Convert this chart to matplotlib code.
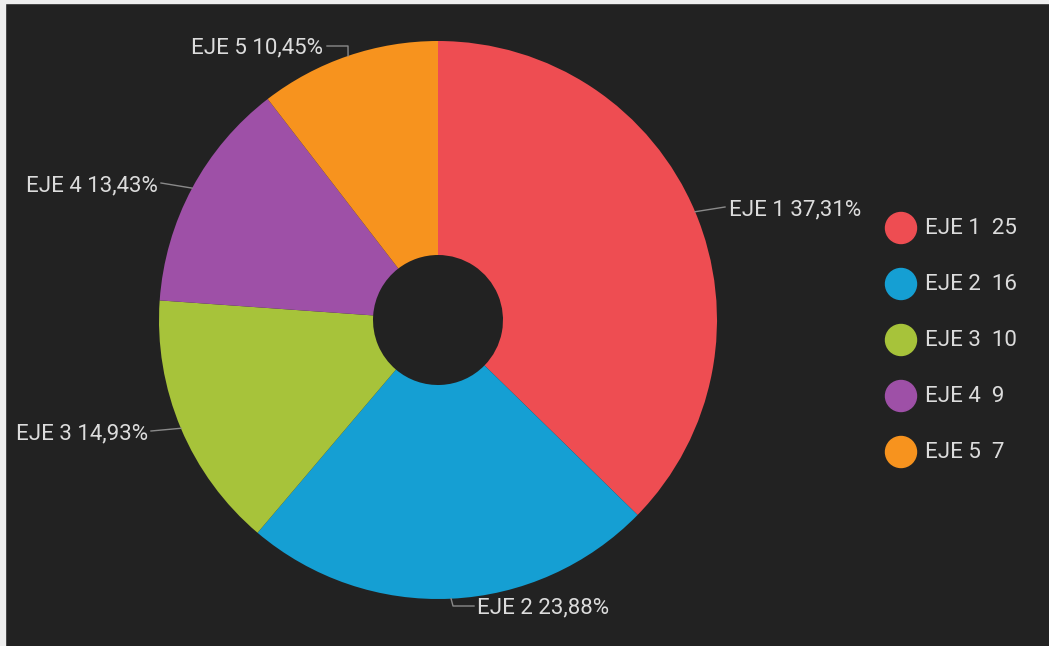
import numpy as np
import matplotlib
matplotlib.use("Agg")
import matplotlib.pyplot as plt
from matplotlib import rcParams, patches

rcParams['font.family'] = ['Roboto', 'DejaVu Sans']

# datos
categorias = ['EJE 1', 'EJE 2', 'EJE 3', 'EJE 4', 'EJE 5']
valores = [25, 16, 10, 9, 7]
colores = ['#EE4D52', '#159FD3', '#A7C33A', '#9E50A7', '#F7931E']

W, H = 1049, 646
fondo = '#222222'
texto = '#DCDCDC'
linea = '#8A8A8A'

fig = plt.figure(figsize=(W / 100, H / 100), dpi=100)
fig.patch.set_facecolor(fondo)
ax = fig.add_axes([0, 0, 1, 1])

def Y(y):
    # coordenada desde arriba
    return H - y

cx, cy, r, hueco = 438, 320, 279, 65
wedges, _ = ax.pie(valores, colors=colores, startangle=90, counterclock=False,
                   center=(cx, Y(cy)), radius=r,
                   wedgeprops=dict(width=r - hueco, linewidth=0))
ax.set_xlim(0, W)
ax.set_ylim(0, H)
ax.set_aspect('equal')
ax.axis('off')

total = sum(valores)
# ubicacion de etiquetas: (x texto, y texto, alineacion, codo)
etiquetas = [
    (729, 210, 'left', [(725, 207)]),
    (477, 608, 'left', [(453, 606), (474, 606)]),
    (148, 434, 'right', [(151, 431)]),
    (158, 186, 'right', [(161, 183)]),
    (323, 48, 'right', [(348, 46), (327, 46)]),
]
for w, cat, v, (tx, ty, ha, codo) in zip(wedges, categorias, valores, etiquetas):
    ang = np.deg2rad((w.theta1 + w.theta2) / 2)
    ex = cx + r * np.cos(ang)
    ey = Y(cy) + r * np.sin(ang)
    xs = [ex] + [p[0] for p in codo]
    ys = [ey] + [Y(p[1]) for p in codo]
    ax.plot(xs, ys, color=linea, linewidth=1)
    pct = f'{100 * v / total:.2f}'.replace('.', ',')
    ax.text(tx, Y(ty), f'{cat} {pct}%', color=texto, fontsize=16,
            ha=ha, va='center')

# leyenda
for i, (cat, v, c) in enumerate(zip(categorias, valores, colores)):
    ly = 228 + i * 56
    ax.add_patch(patches.Circle((901, Y(ly)), 15.5, color=c))
    ax.text(925, Y(ly), f'{cat}  {v}', color=texto, fontsize=16,
            ha='left', va='center')

# borde claro izquierdo y superior
fig.patches.append(patches.Rectangle((0, 0), 5 / W, 1, transform=fig.transFigure,
                                     color='#EEEEEE', zorder=10))
fig.patches.append(patches.Rectangle((0, 1 - 3 / H), 1, 3 / H, transform=fig.transFigure,
                                     color='#EEEEEE', zorder=10))

fig.savefig('out.png', dpi=100, facecolor=fondo)
